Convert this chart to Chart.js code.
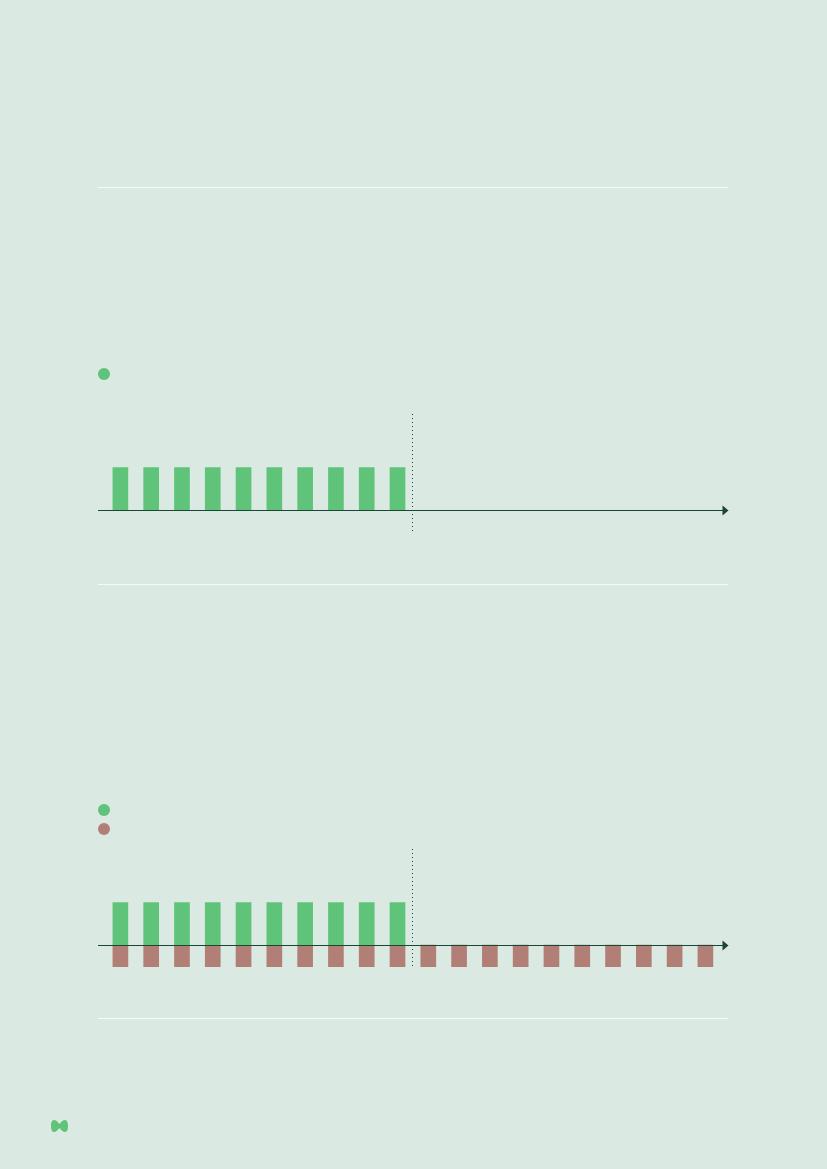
<!DOCTYPE html>
<html>
<head>
<meta charset="utf-8">
<title>Chart</title>
<script src="https://cdn.jsdelivr.net/npm/chart.js@4"></script>
<style>
    html, body { margin: 0; padding: 0; background: #dae9e2; }
    #page { position: relative; width: 827px; height: 1169px; overflow: hidden; background: #dae9e2; }
    #page canvas { position: absolute; left: 0; }
    .rule { position: absolute; left: 98px; width: 630px; height: 1px; background: #f5f9f7; }
    .dot { position: absolute; left: 98px; width: 12px; height: 12px; border-radius: 50%; }
    .green { background: #5fc479; }
    .red { background: #b27f77; }
    #logo { position: absolute; left: 50px; top: 1119px; }
</style>
</head>
<body>
<div id="page">
    <div class="rule" style="top:187px"></div>
    <div class="rule" style="top:584px"></div>
    <div class="rule" style="top:1018px"></div>

    <div class="dot green" style="top:368px"></div>
    <div class="dot green" style="top:804px"></div>
    <div class="dot red" style="top:823px"></div>

    <canvas id="chartTop" width="827" height="140" style="top:400px"></canvas>
    <canvas id="chartBottom" width="827" height="140" style="top:835px"></canvas>

    <svg id="logo" width="19" height="14" viewBox="0 0 19 14">
        <path d="M1 7 C1 2 2.5 1 4.5 1 C6.5 1 8 3.5 9.5 5 C11 3.5 12.5 1 14.5 1 C16.5 1 18 2 18 7 C18 12 16.5 13 14.5 13 C12.5 13 11 10.5 9.5 9 C8 10.5 6.5 13 4.5 13 C2.5 13 1 12 1 7 Z" fill="#5fc479"/>
    </svg>
</div>

<script>
const categories = ['1', '2', '3', '4', '5', '6', '7', '8', '9', '10',
                    '11', '12', '13', '14', '15', '16', '17', '18', '19', '20'];
const topGreen = [1.95, 1.95, 1.95, 1.95, 1.95, 1.95, 1.95, 1.95, 1.95, 1.95, null, null, null, null, null, null, null, null, null, null];
const bottomGreen = [1.95, 1.95, 1.95, 1.95, 1.95, 1.95, 1.95, 1.95, 1.95, 1.95, null, null, null, null, null, null, null, null, null, null];
const bottomRed = [-1, -1, -1, -1, -1, -1, -1, -1, -1, -1, -1, -1, -1, -1, -1, -1, -1, -1, -1, -1];

const GREEN = '#5fc479';
const RED = '#b27f77';
const DARK = '#1b4537';

// zero line with arrow head, plus the dotted divider between bar 10 and 11
const axisPlugin = {
    id: 'axisPlugin',
    afterDatasetsDraw(chart) {
        const ctx = chart.ctx;
        const area = chart.chartArea;
        const zero = Math.round(chart.scales.y.getPixelForValue(0)) + 0.5;
        const split = Math.round(chart.scales.x.getPixelForValue(9.5)) - 0.5;

        ctx.save();
        ctx.strokeStyle = DARK;
        ctx.lineWidth = 1;
        ctx.setLineDash([1, 3]);
        ctx.beginPath();
        ctx.moveTo(split, area.top);
        ctx.lineTo(split, area.bottom + 1);
        ctx.stroke();

        ctx.setLineDash([]);
        ctx.lineWidth = 1.2;
        ctx.beginPath();
        ctx.moveTo(98, zero);
        ctx.lineTo(724, zero);
        ctx.stroke();

        ctx.fillStyle = DARK;
        ctx.beginPath();
        ctx.moveTo(722.5, zero - 5);
        ctx.lineTo(728.5, zero);
        ctx.lineTo(722.5, zero + 5);
        ctx.closePath();
        ctx.fill();
        ctx.restore();
    }
};

function createBarChart(id, datasets) {
    const ctx = document.getElementById(id).getContext('2d');
    return new Chart(ctx, {
        type: 'bar',
        data: { labels: categories, datasets: datasets },
        options: {
            responsive: false,
            animation: false,
            devicePixelRatio: 1,
            layout: { padding: { left: 105, right: 106.2, top: 14, bottom: 8 } },
            scales: {
                x: { display: false, stacked: true },
                y: { display: false, stacked: true, min: -1, max: 4.4 }
            },
            plugins: {
                legend: { display: false },
                tooltip: { enabled: false }
            }
        },
        plugins: [axisPlugin]
    });
}

createBarChart('chartTop', [
    { label: 'Green', data: topGreen, backgroundColor: GREEN, barThickness: 15 }
]);

createBarChart('chartBottom', [
    { label: 'Green', data: bottomGreen, backgroundColor: GREEN, barThickness: 15 },
    { label: 'Red', data: bottomRed, backgroundColor: RED, barThickness: 15 }
]);
</script>
</body>
</html>
